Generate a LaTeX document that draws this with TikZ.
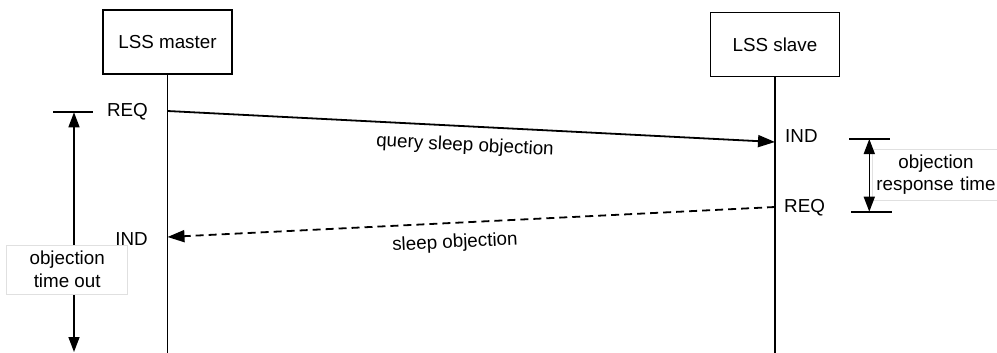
\documentclass[tikz,border=0pt]{standalone}
\usepackage{fontspec}
\setmainfont{Liberation Sans}
\usetikzlibrary{arrows.meta}
\begin{document}
\begin{tikzpicture}[x=1pt,y=-1pt,
  every node/.style={font=\fontsize{18.8}{22.5}\selectfont},
  actor/.style={draw,line width=1.8pt,minimum width=129pt,minimum height=64pt,inner sep=0pt},
  life/.style={line width=1.8pt},
  msg/.style={line width=1.8pt,-{Triangle[length=17pt,width=12pt]}},
  reply/.style={msg,dash pattern=on 8pt off 5pt},
  tickline/.style={line width=1.8pt},
  span/.style={line width=1.5pt,{Triangle[length=15pt,width=11pt]}-{Triangle[length=15pt,width=11pt]}},
  note/.style={fill=white,draw=black!12,line width=0.6pt,align=center,inner sep=0pt},
  tag/.style={inner sep=0pt}
]
\useasboundingbox (0,0) rectangle (997,353);

% Participants and lifelines
\node[actor] (master) at (167.5,42) {LSS master};
\node[actor] (slave) at (775,44.5) {LSS slave};
\coordinate (mBottom) at (167.5,353);
\coordinate (sBottom) at (775,353);
\draw[life] (master.south) -- (mBottom);
\draw[life] (slave.south) -- (sBottom);

% Message end points on the lifelines
\coordinate (mReq) at (167.5,111);
\coordinate (sInd) at (775,142);
\coordinate (sReq) at (775,207);
\coordinate (mInd) at (167.5,237);

% Request and reply
\draw[msg] (mReq) -- (sInd);
\node[tag,rotate=-2.9] (qso) at (465,146) {query sleep objection};
\draw[reply] (sReq) -- (mInd);
\node[tag,rotate=2.8] (so) at (455,243) {sleep objection};

% Primitive labels
\node[tag,anchor=east] (mReqL) at (148,112) {REQ};
\node[tag,anchor=east] (mIndL) at (148,239) {IND};
\node[tag,anchor=west] (sIndL) at (785,136) {IND};
\node[tag,anchor=west] (sReqL) at (784,208) {REQ};

% Objection time out
\coordinate (toA) at (53,112.3);
\coordinate (toB) at (93,112.3);
\coordinate (toTop) at (74,112.3);
\coordinate (toBot) at (74,352);
\draw[tickline] (toA) -- (toB);
\draw[span] (toTop) -- (toBot);
\node[note,minimum width=121pt,minimum height=49pt] (timeout) at (67.2,269.5) {objection\\time out};

% Objection response time
\coordinate (rtA) at (849,139);
\coordinate (rtB) at (890,139);
\coordinate (rtC) at (851,211.7);
\coordinate (rtD) at (892,211.7);
\coordinate (rtTop) at (869.3,139);
\coordinate (rtBot) at (869.3,211.7);
\draw[tickline] (rtA) -- (rtB);
\draw[tickline] (rtC) -- (rtD);
\node[note,minimum width=132pt,minimum height=51pt,text width=124pt] (resp) at (938,174.5) {\hspace*{-4pt}objection\\\hspace*{-4pt}response time};
\draw[span] (rtTop) -- (rtBot);
\end{tikzpicture}
\end{document}
